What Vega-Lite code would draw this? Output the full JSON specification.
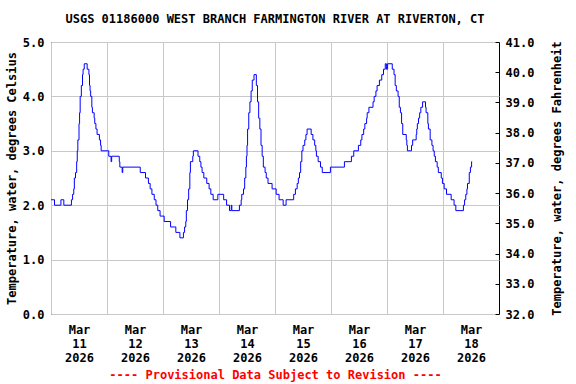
{
  "$schema": "https://vega.github.io/schema/vega-lite/v6.json",
  "width": 448,
  "height": 272,
  "autosize": {"type": "none"},
  "padding": {"left": 51, "top": 42, "right": 77, "bottom": 70},
  "background": "white",
  "config": {
    "font": "DejaVu Sans Mono",
    "view": {"stroke": "black", "strokeWidth": 1},
    "axis": {"labelFontWeight": "bold", "titleFontWeight": "bold", "labelFontSize": 12, "titleFontSize": 12, "labelColor": "black", "titleColor": "black", "domain": false}
  },
  "title": {
    "text": "USGS 01186000 WEST BRANCH FARMINGTON RIVER AT RIVERTON, CT",
    "font": "DejaVu Sans Mono",
    "fontSize": 12,
    "fontWeight": "bold",
    "anchor": "middle",
    "offset": 10,
    "color": "black"
  },
  "data": {
    "values": [
      {"t": "2026-03-11T00:00", "temp": 2.1},
      {"t": "2026-03-11T01:30", "temp": 2.0},
      {"t": "2026-03-11T04:15", "temp": 2.1},
      {"t": "2026-03-11T05:30", "temp": 2.0},
      {"t": "2026-03-11T08:45", "temp": 2.1},
      {"t": "2026-03-11T09:15", "temp": 2.2},
      {"t": "2026-03-11T09:45", "temp": 2.3},
      {"t": "2026-03-11T10:00", "temp": 2.5},
      {"t": "2026-03-11T10:30", "temp": 2.6},
      {"t": "2026-03-11T11:00", "temp": 2.8},
      {"t": "2026-03-11T11:15", "temp": 3.0},
      {"t": "2026-03-11T11:30", "temp": 3.2},
      {"t": "2026-03-11T12:00", "temp": 3.5},
      {"t": "2026-03-11T12:15", "temp": 3.7},
      {"t": "2026-03-11T12:30", "temp": 4.0},
      {"t": "2026-03-11T13:00", "temp": 4.2},
      {"t": "2026-03-11T13:30", "temp": 4.4},
      {"t": "2026-03-11T13:45", "temp": 4.5},
      {"t": "2026-03-11T14:15", "temp": 4.6},
      {"t": "2026-03-11T15:30", "temp": 4.5},
      {"t": "2026-03-11T16:15", "temp": 4.4},
      {"t": "2026-03-11T16:30", "temp": 4.2},
      {"t": "2026-03-11T16:45", "temp": 4.1},
      {"t": "2026-03-11T17:00", "temp": 4.0},
      {"t": "2026-03-11T17:30", "temp": 3.8},
      {"t": "2026-03-11T17:45", "temp": 3.7},
      {"t": "2026-03-11T18:30", "temp": 3.6},
      {"t": "2026-03-11T18:45", "temp": 3.5},
      {"t": "2026-03-11T19:15", "temp": 3.4},
      {"t": "2026-03-11T19:45", "temp": 3.3},
      {"t": "2026-03-11T20:45", "temp": 3.2},
      {"t": "2026-03-11T21:15", "temp": 3.1},
      {"t": "2026-03-11T21:30", "temp": 3.0},
      {"t": "2026-03-12T00:45", "temp": 2.9},
      {"t": "2026-03-12T01:45", "temp": 2.8},
      {"t": "2026-03-12T02:00", "temp": 2.9},
      {"t": "2026-03-12T05:15", "temp": 2.8},
      {"t": "2026-03-12T05:30", "temp": 2.7},
      {"t": "2026-03-12T06:30", "temp": 2.6},
      {"t": "2026-03-12T06:45", "temp": 2.7},
      {"t": "2026-03-12T14:15", "temp": 2.6},
      {"t": "2026-03-12T16:30", "temp": 2.5},
      {"t": "2026-03-12T17:45", "temp": 2.4},
      {"t": "2026-03-12T18:30", "temp": 2.3},
      {"t": "2026-03-12T19:15", "temp": 2.2},
      {"t": "2026-03-12T20:15", "temp": 2.1},
      {"t": "2026-03-12T21:00", "temp": 2.0},
      {"t": "2026-03-12T21:45", "temp": 1.9},
      {"t": "2026-03-12T22:45", "temp": 1.8},
      {"t": "2026-03-13T00:30", "temp": 1.7},
      {"t": "2026-03-13T03:15", "temp": 1.6},
      {"t": "2026-03-13T05:30", "temp": 1.5},
      {"t": "2026-03-13T07:15", "temp": 1.4},
      {"t": "2026-03-13T08:45", "temp": 1.5},
      {"t": "2026-03-13T09:15", "temp": 1.6},
      {"t": "2026-03-13T09:45", "temp": 1.7},
      {"t": "2026-03-13T10:00", "temp": 1.9},
      {"t": "2026-03-13T10:30", "temp": 2.1},
      {"t": "2026-03-13T11:00", "temp": 2.3},
      {"t": "2026-03-13T11:30", "temp": 2.6},
      {"t": "2026-03-13T11:45", "temp": 2.8},
      {"t": "2026-03-13T12:45", "temp": 2.9},
      {"t": "2026-03-13T13:00", "temp": 3.0},
      {"t": "2026-03-13T15:00", "temp": 2.9},
      {"t": "2026-03-13T15:45", "temp": 2.8},
      {"t": "2026-03-13T16:15", "temp": 2.7},
      {"t": "2026-03-13T16:45", "temp": 2.6},
      {"t": "2026-03-13T17:30", "temp": 2.5},
      {"t": "2026-03-13T18:45", "temp": 2.4},
      {"t": "2026-03-13T19:45", "temp": 2.3},
      {"t": "2026-03-13T20:30", "temp": 2.2},
      {"t": "2026-03-13T21:30", "temp": 2.1},
      {"t": "2026-03-13T23:30", "temp": 2.2},
      {"t": "2026-03-14T02:00", "temp": 2.1},
      {"t": "2026-03-14T03:15", "temp": 2.0},
      {"t": "2026-03-14T04:30", "temp": 1.9},
      {"t": "2026-03-14T05:15", "temp": 2.0},
      {"t": "2026-03-14T05:30", "temp": 1.9},
      {"t": "2026-03-14T08:45", "temp": 2.0},
      {"t": "2026-03-14T09:30", "temp": 2.1},
      {"t": "2026-03-14T09:45", "temp": 2.2},
      {"t": "2026-03-14T10:30", "temp": 2.3},
      {"t": "2026-03-14T11:00", "temp": 2.5},
      {"t": "2026-03-14T11:30", "temp": 2.7},
      {"t": "2026-03-14T11:45", "temp": 2.9},
      {"t": "2026-03-14T12:00", "temp": 3.1},
      {"t": "2026-03-14T12:15", "temp": 3.4},
      {"t": "2026-03-14T12:45", "temp": 3.7},
      {"t": "2026-03-14T13:15", "temp": 3.9},
      {"t": "2026-03-14T13:45", "temp": 4.1},
      {"t": "2026-03-14T14:15", "temp": 4.3},
      {"t": "2026-03-14T15:00", "temp": 4.4},
      {"t": "2026-03-14T16:00", "temp": 4.2},
      {"t": "2026-03-14T16:30", "temp": 3.9},
      {"t": "2026-03-14T17:00", "temp": 3.6},
      {"t": "2026-03-14T17:30", "temp": 3.4},
      {"t": "2026-03-14T18:00", "temp": 3.1},
      {"t": "2026-03-14T18:30", "temp": 2.9},
      {"t": "2026-03-14T19:00", "temp": 2.7},
      {"t": "2026-03-14T19:45", "temp": 2.6},
      {"t": "2026-03-14T20:15", "temp": 2.5},
      {"t": "2026-03-14T21:00", "temp": 2.4},
      {"t": "2026-03-14T22:45", "temp": 2.3},
      {"t": "2026-03-15T00:30", "temp": 2.2},
      {"t": "2026-03-15T01:45", "temp": 2.1},
      {"t": "2026-03-15T03:30", "temp": 2.0},
      {"t": "2026-03-15T04:45", "temp": 2.1},
      {"t": "2026-03-15T08:00", "temp": 2.2},
      {"t": "2026-03-15T08:45", "temp": 2.3},
      {"t": "2026-03-15T09:30", "temp": 2.4},
      {"t": "2026-03-15T10:00", "temp": 2.5},
      {"t": "2026-03-15T10:30", "temp": 2.6},
      {"t": "2026-03-15T11:00", "temp": 2.8},
      {"t": "2026-03-15T11:30", "temp": 3.0},
      {"t": "2026-03-15T12:00", "temp": 3.1},
      {"t": "2026-03-15T12:45", "temp": 3.2},
      {"t": "2026-03-15T13:15", "temp": 3.3},
      {"t": "2026-03-15T13:45", "temp": 3.4},
      {"t": "2026-03-15T15:30", "temp": 3.3},
      {"t": "2026-03-15T16:15", "temp": 3.2},
      {"t": "2026-03-15T17:00", "temp": 3.1},
      {"t": "2026-03-15T17:30", "temp": 3.0},
      {"t": "2026-03-15T17:45", "temp": 2.9},
      {"t": "2026-03-15T18:30", "temp": 2.8},
      {"t": "2026-03-15T19:30", "temp": 2.7},
      {"t": "2026-03-15T20:15", "temp": 2.6},
      {"t": "2026-03-15T23:45", "temp": 2.7},
      {"t": "2026-03-16T05:45", "temp": 2.8},
      {"t": "2026-03-16T08:45", "temp": 2.9},
      {"t": "2026-03-16T09:45", "temp": 3.0},
      {"t": "2026-03-16T11:45", "temp": 3.1},
      {"t": "2026-03-16T12:45", "temp": 3.2},
      {"t": "2026-03-16T13:15", "temp": 3.3},
      {"t": "2026-03-16T14:00", "temp": 3.4},
      {"t": "2026-03-16T14:30", "temp": 3.5},
      {"t": "2026-03-16T15:15", "temp": 3.6},
      {"t": "2026-03-16T15:30", "temp": 3.7},
      {"t": "2026-03-16T16:15", "temp": 3.8},
      {"t": "2026-03-16T18:00", "temp": 3.9},
      {"t": "2026-03-16T18:30", "temp": 4.0},
      {"t": "2026-03-16T19:15", "temp": 4.1},
      {"t": "2026-03-16T19:45", "temp": 4.2},
      {"t": "2026-03-16T20:45", "temp": 4.3},
      {"t": "2026-03-16T21:45", "temp": 4.4},
      {"t": "2026-03-16T22:30", "temp": 4.5},
      {"t": "2026-03-16T23:15", "temp": 4.6},
      {"t": "2026-03-16T23:45", "temp": 4.5},
      {"t": "2026-03-17T00:15", "temp": 4.6},
      {"t": "2026-03-17T02:15", "temp": 4.5},
      {"t": "2026-03-17T03:00", "temp": 4.4},
      {"t": "2026-03-17T03:30", "temp": 4.2},
      {"t": "2026-03-17T04:00", "temp": 4.1},
      {"t": "2026-03-17T04:45", "temp": 4.0},
      {"t": "2026-03-17T05:15", "temp": 3.8},
      {"t": "2026-03-17T05:45", "temp": 3.7},
      {"t": "2026-03-17T06:15", "temp": 3.5},
      {"t": "2026-03-17T06:45", "temp": 3.3},
      {"t": "2026-03-17T08:15", "temp": 3.2},
      {"t": "2026-03-17T08:30", "temp": 3.1},
      {"t": "2026-03-17T08:45", "temp": 3.0},
      {"t": "2026-03-17T10:30", "temp": 3.1},
      {"t": "2026-03-17T11:00", "temp": 3.2},
      {"t": "2026-03-17T12:30", "temp": 3.3},
      {"t": "2026-03-17T12:45", "temp": 3.4},
      {"t": "2026-03-17T13:00", "temp": 3.5},
      {"t": "2026-03-17T13:30", "temp": 3.6},
      {"t": "2026-03-17T14:00", "temp": 3.7},
      {"t": "2026-03-17T14:30", "temp": 3.8},
      {"t": "2026-03-17T15:15", "temp": 3.9},
      {"t": "2026-03-17T16:30", "temp": 3.8},
      {"t": "2026-03-17T16:45", "temp": 3.7},
      {"t": "2026-03-17T17:30", "temp": 3.5},
      {"t": "2026-03-17T17:45", "temp": 3.4},
      {"t": "2026-03-17T18:30", "temp": 3.2},
      {"t": "2026-03-17T19:15", "temp": 3.1},
      {"t": "2026-03-17T19:45", "temp": 3.0},
      {"t": "2026-03-17T20:15", "temp": 2.9},
      {"t": "2026-03-17T20:45", "temp": 2.8},
      {"t": "2026-03-17T21:30", "temp": 2.7},
      {"t": "2026-03-17T22:00", "temp": 2.6},
      {"t": "2026-03-17T23:15", "temp": 2.5},
      {"t": "2026-03-17T23:45", "temp": 2.4},
      {"t": "2026-03-18T00:30", "temp": 2.3},
      {"t": "2026-03-18T01:30", "temp": 2.2},
      {"t": "2026-03-18T03:30", "temp": 2.1},
      {"t": "2026-03-18T04:45", "temp": 2.0},
      {"t": "2026-03-18T05:30", "temp": 1.9},
      {"t": "2026-03-18T08:45", "temp": 2.0},
      {"t": "2026-03-18T09:15", "temp": 2.1},
      {"t": "2026-03-18T09:45", "temp": 2.2},
      {"t": "2026-03-18T10:15", "temp": 2.3},
      {"t": "2026-03-18T10:30", "temp": 2.4},
      {"t": "2026-03-18T11:15", "temp": 2.6},
      {"t": "2026-03-18T11:45", "temp": 2.7},
      {"t": "2026-03-18T12:15", "temp": 2.8},
      {"t": "2026-03-18T12:30", "temp": 2.8}
    ]
  },
  "layer": [
    {
      "mark": {"type": "line", "color": "#0000FF", "strokeWidth": 1, "interpolate": "step-after", "clip": true},
      "encoding": {
        "x": {
          "field": "t",
          "type": "temporal",
          "scale": {"domain": [{"year": 2026, "month": 3, "date": 11}, {"year": 2026, "month": 3, "date": 19}]},
          "axis": {
            "values": [
              {"year": 2026, "month": 3, "date": 11},
              {"year": 2026, "month": 3, "date": 12},
              {"year": 2026, "month": 3, "date": 13},
              {"year": 2026, "month": 3, "date": 14},
              {"year": 2026, "month": 3, "date": 15},
              {"year": 2026, "month": 3, "date": 16},
              {"year": 2026, "month": 3, "date": 17},
              {"year": 2026, "month": 3, "date": 18}
            ],
            "labelExpr": "[timeFormat(datum.value, '%b'), timeFormat(datum.value, '%d'), timeFormat(datum.value, '%Y')]",
            "labelOffset": 28,
            "labelLineHeight": 14,
            "labelPadding": 10,
            "labelAlign": "center",
            "ticks": false,
            "grid": true,
            "gridColor": "#c8c8c8",
            "gridOpacity": 1,
            "title": "---- Provisional Data Subject to Revision ----",
            "titleColor": "#FF0000",
            "titlePadding": 6
          }
        },
        "y": {
          "field": "temp",
          "type": "quantitative",
          "scale": {"domain": [0, 5], "nice": false, "zero": false},
          "axis": {
            "orient": "left",
            "values": [0, 1, 2, 3, 4, 5],
            "format": ".1f",
            "ticks": false,
            "labelPadding": 7,
            "grid": true,
            "gridColor": "#c8c8c8",
            "gridOpacity": 1,
            "title": "Temperature, water, degrees Celsius",
            "titlePadding": 4
          }
        }
      }
    },
    {
      "data": {"values": [{"f": 32}, {"f": 41}]},
      "mark": {"type": "point", "opacity": 0},
      "encoding": {
        "y": {
          "field": "f",
          "type": "quantitative",
          "scale": {"domain": [32, 41], "nice": false, "zero": false},
          "axis": {
            "orient": "right",
            "values": [32, 33, 34, 35, 36, 37, 38, 39, 40, 41],
            "format": ".1f",
            "ticks": true,
            "tickSize": -4,
            "tickColor": "black",
            "labelPadding": 10,
            "grid": false,
            "title": "Temperature, water, degrees Fahrenheit",
            "titleAngle": -90,
            "titlePadding": 30
          }
        }
      }
    }
  ],
  "resolve": {"scale": {"y": "independent"}}
}
